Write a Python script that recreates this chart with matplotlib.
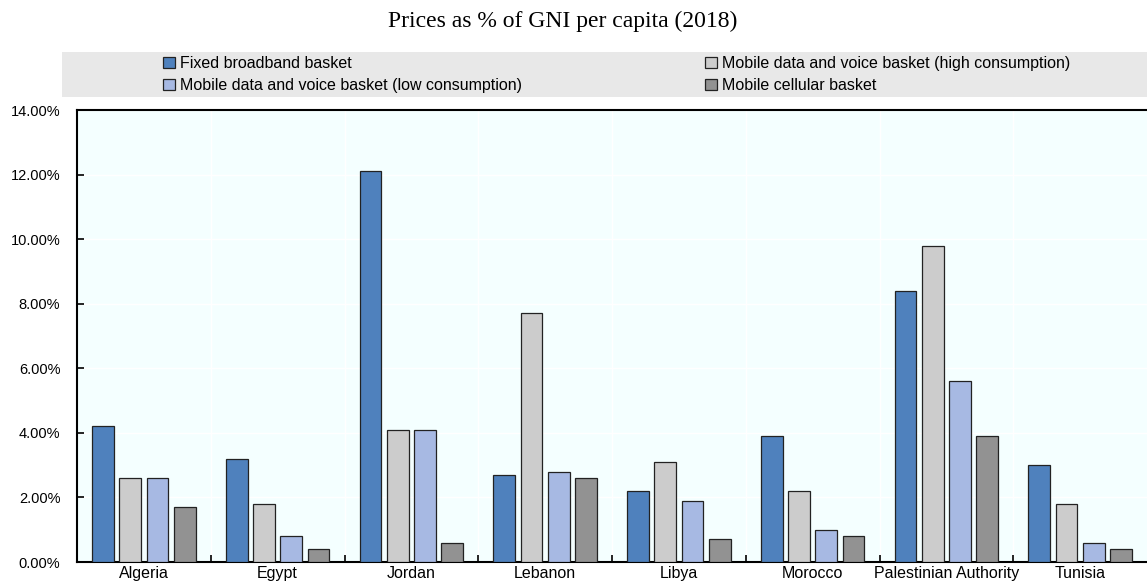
import numpy as np
import matplotlib.pyplot as plt
from matplotlib.patches import Rectangle
from matplotlib.ticker import FixedLocator, PercentFormatter

countries = ["Algeria", "Egypt", "Jordan", "Lebanon", "Libya", "Morocco",
             "Palestinian Authority", "Tunisia"]
fixed_broadband = [4.2, 3.2, 12.1, 2.7, 2.2, 3.9, 8.4, 3.0]
mobile_high = [2.6, 1.8, 4.1, 7.7, 3.1, 2.2, 9.8, 1.8]
mobile_low = [2.6, 0.8, 4.1, 2.8, 1.9, 1.0, 5.6, 0.6]
mobile_cellular = [1.7, 0.4, 0.6, 2.6, 0.7, 0.8, 3.9, 0.4]

series = [
    ("Fixed broadband basket", fixed_broadband, "#4F81BD"),
    ("Mobile data and voice basket (high consumption)", mobile_high, "#CCCCCC"),
    ("Mobile data and voice basket (low consumption)", mobile_low, "#A7B9E3"),
    ("Mobile cellular basket", mobile_cellular, "#929292"),
]


def main():
    plt.rcParams['font.family'] = ['Liberation Sans', 'DejaVu Sans']
    W, H = 1147, 583
    fig = plt.figure(figsize=(W / 100, H / 100), dpi=100)

    # axes placed in pixel terms
    l, r, t, b = 77, 1147, 110, 562
    ax = fig.add_axes([l / W, 1 - b / H, (r - l) / W, (b - t) / H])
    ax.set_facecolor("#F4FFFF")

    x = np.arange(len(countries))
    step = 0.204
    width = 0.162
    handles = []
    for i, (name, vals, col) in enumerate(series):
        h = ax.bar(x + (i - 1.5) * step, vals, width=width, color=col,
                   edgecolor="#222222", linewidth=0.9, label=name, zorder=3)
        handles.append(h)

    ax.set_xlim(-0.5, len(countries) - 0.5)
    ax.set_ylim(0, 14)
    ax.yaxis.set_major_locator(FixedLocator(np.arange(0, 14.1, 2)))
    ax.yaxis.set_major_formatter(PercentFormatter(decimals=2))
    ax.set_xticks(x)
    ax.set_xticklabels(countries)
    ax.xaxis.set_minor_locator(FixedLocator(np.arange(0.5, len(countries) - 0.5, 1)))
    ax.tick_params(axis='x', which='major', length=0, labelsize=11.5, pad=3)
    ax.tick_params(axis='x', which='minor', direction='in', length=5, width=1.2)
    ax.tick_params(axis='y', direction='in', length=5, width=1.2, labelsize=10.5, pad=12)

    ax.grid(True, axis='y', color='white', linewidth=1, zorder=0)
    ax.grid(True, axis='x', which='minor', color='white', linewidth=1, zorder=0)
    ax.set_axisbelow(True)
    for s in ['left', 'bottom', 'top']:
        ax.spines[s].set_linewidth(1.5)
    ax.spines['right'].set_visible(False)

    # grey legend band
    fig.patches.append(Rectangle((62 / W, 1 - 97 / H), (W - 62) / W, 45 / H,
                                 transform=fig.transFigure, facecolor="#E8E8E8",
                                 edgecolor='none', zorder=0))
    order = [handles[0], handles[2], handles[1], handles[3]]
    fig.legend(order, [hh.get_label() for hh in order], ncol=2,
               loc='upper left', bbox_to_anchor=(163 / W, 1 - 56 / H),
               frameon=False, fontsize=11.5, handlelength=0.75,
               handleheight=0.65, handletextpad=0.3, columnspacing=11.5,
               labelspacing=0.45, borderpad=0, borderaxespad=0)

    fig.text(563 / W, 1 - 21 / H, "Prices as % of GNI per capita (2018)",
             ha='center', va='center', fontsize=17, family='Liberation Serif')

    plt.savefig("out.png", dpi=100)


if __name__ == '__main__':
    main()
